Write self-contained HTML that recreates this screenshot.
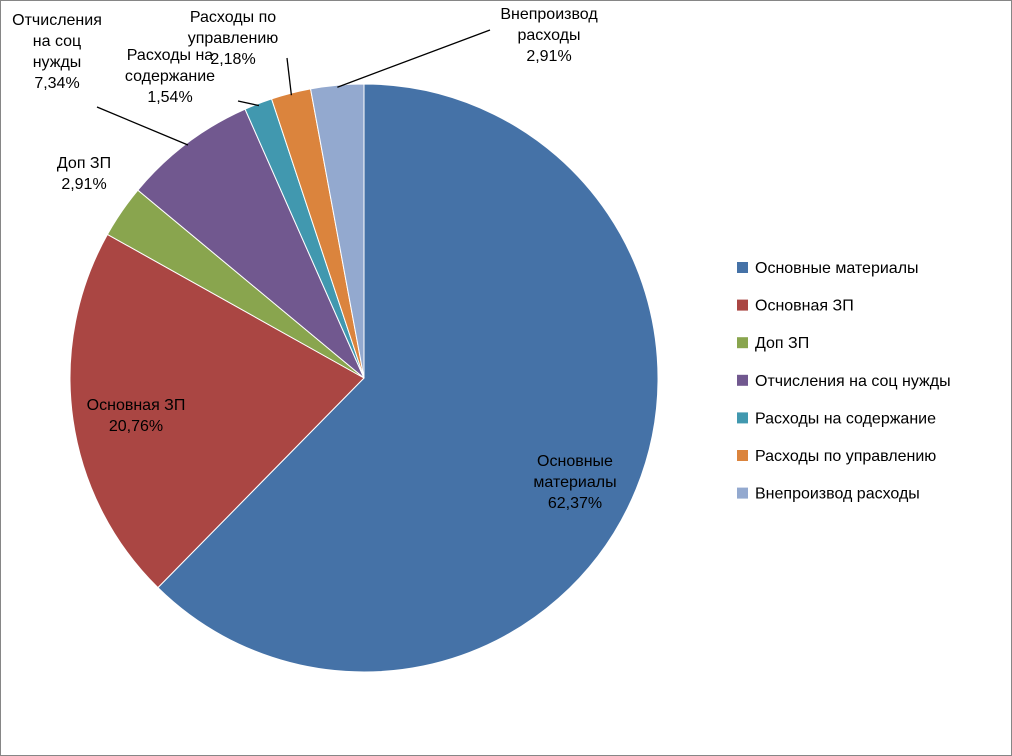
<!DOCTYPE html>
<html><head><meta charset="utf-8"><style>
body{margin:0;background:#fff}
svg{display:block;font-family:"Liberation Sans","DejaVu Sans",sans-serif}
</style></head><body>
<svg id="c" width="1012" height="756">
<rect x="0.5" y="0.5" width="1011" height="755" fill="#fff" stroke="#868686"/>
<g id="slices"></g><g id="lines"></g><g id="labels"></g><g id="legend"></g>
</svg>
<script>
const categories=["Основные материалы","Основная ЗП","Доп ЗП","Отчисления на соц нужды","Расходы на содержание","Расходы по управлению","Внепроизвод расходы"];
const values=[62.37,20.76,2.91,7.34,1.54,2.18,2.91];
const valueLabels=["62,37%","20,76%","2,91%","7,34%","1,54%","2,18%","2,91%"];
const colors=["#4572A7","#AA4643","#89A54E","#71588F","#4198AF","#DB843D","#93A9CF"];
const labelLines=[["Основные","материалы"],["Основная ЗП"],["Доп ЗП"],["Отчисления","на соц","нужды"],["Расходы на","содержание"],["Расходы по","управлению"],["Внепроизвод","расходы"]];
const labelPos=[[575,466],[136,410],[84,168],[57,25],[170,60],[233,22],[549,19]];
const NS="http://www.w3.org/2000/svg";
const cx=364,cy=378,r=294;
const total=values.reduce((a,b)=>a+b,0);
function mk(t,a,p){const e=document.createElementNS(NS,t);for(const k in a)e.setAttribute(k,a[k]);p.appendChild(e);return e;}
function pt(ang,rr){return [cx+rr*Math.sin(ang),cy-rr*Math.cos(ang)];}
let a0=0;
const sg=document.getElementById('slices'),lg=document.getElementById('labels'),ln=document.getElementById('lines'),leg=document.getElementById('legend');
const mids=[];
values.forEach((v,i)=>{
 const a1=a0+v/total*2*Math.PI;
 const p0=pt(a0,r),p1=pt(a1,r);
 const large=(a1-a0)>Math.PI?1:0;
 const p=mk('path',{d:`M${cx},${cy}L${p0[0]},${p0[1]}A${r},${r} 0 ${large} 1 ${p1[0]},${p1[1]}Z`,fill:colors[i],stroke:'#fff','stroke-width':1},sg);
 
 
 mids.push((a0+a1)/2);
 a0=a1;
});
// leader lines for small outer labels
const leaders={3:[97,107],4:[238,101],5:[287,58],6:[490,30]};
for(const k in leaders){
 const e=pt(mids[k],r-2);
 const l=mk('polyline',{points:`${leaders[k][0]},${leaders[k][1]} ${e[0]},${e[1]}`,stroke:'#000','stroke-width':1.3,fill:'none'},ln);
 
 
}
labelLines.forEach((lines,i)=>{
 const t=mk('text',{x:labelPos[i][0],y:labelPos[i][1],'text-anchor':'middle','font-size':16,fill:'#000'},lg);
 
 
 [...lines,valueLabels[i]].forEach((s,j)=>{const ts=mk('tspan',{x:labelPos[i][0],dy:j?21:0},t);ts.textContent=s;});
});
categories.forEach((c,i)=>{
 const y=267+i*37.6;
 const g=mk('g',{},leg);
 
 
 mk('rect',{x:737,y:y-5,width:11,height:11,fill:colors[i]},g);
 const t=mk('text',{x:755,y:y+6,'font-size':16,fill:'#000'},g);
 t.textContent=c;
});
</script>
</body></html>
